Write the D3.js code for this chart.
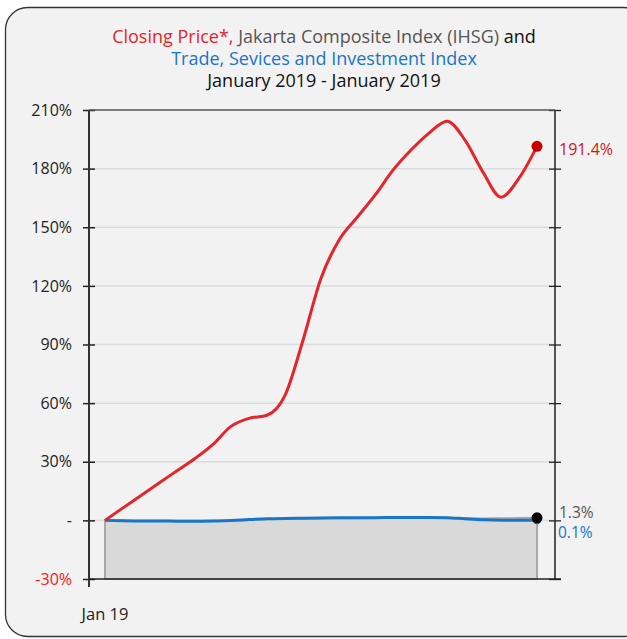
<!DOCTYPE html>
<html>
<head>
<meta charset="utf-8">
<script src="https://cdn.jsdelivr.net/npm/d3@7.9.0/dist/d3.min.js"></script>
<style>
  html, body { margin: 0; padding: 0; background: #fff; }
  svg { display: block; font-family: "Open Sans", "Noto Sans", sans-serif; }
</style>
</head>
<body>
<svg id="chart" width="627" height="639"></svg>
<script>
// closing price, % change from start
const closingPrice = [0, 6.4, 12.7, 19.1, 25.4, 31.7, 38.9, 48.1, 52.2, 53.8, 64, 92.2, 123.9,
  143.4, 155, 166.4, 179.2, 189.5, 198.2, 204.3, 194.6, 178.2, 165.4, 175.1, 191.4];
// Jakarta Composite Index (IHSG)
const ihsg = [0, -0.1, -0.2, -0.2, -0.2, -0.2, -0.2, -0.1, 0.2, 0.6, 0.8, 0.9, 1.0,
  1.1, 1.1, 1.2, 1.2, 1.2, 1.2, 1.2, 1.1, 1.0, 1.1, 1.2, 1.3];
// Trade, Services and Investment Index
const tradeIndex = [0, -0.2, -0.3, -0.3, -0.4, -0.4, -0.3, -0.1, 0.4, 0.8, 1.0, 1.1, 1.2,
  1.3, 1.4, 1.4, 1.5, 1.5, 1.5, 1.4, 0.8, 0.3, 0.1, 0.1, 0.1];
const yTicks = [-30, 0, 30, 60, 90, 120, 150, 180, 210];
const xLabels = [{ i: 0, text: 'Jan 19' }];

const red = '#e3262b', redDot = '#c80000', blue = '#1976c6', grey = '#555';

const svg = d3.select('#chart');

svg.append('rect')
  .attr('x', 5.5).attr('y', 7.5).attr('width', 640).attr('height', 629)
  .attr('rx', 22).attr('fill', '#f2f2f2').attr('stroke', '#333').attr('stroke-width', 1.3);

// title
const title = svg.append('text').attr('text-anchor', 'middle').attr('font-size', 18);
const l1 = title.append('tspan').attr('x', 324).attr('y', 43);
l1.append('tspan').attr('fill', red).text('Closing Price*,');
l1.append('tspan').attr('fill', grey).text(' Jakarta Composite Index (IHSG)');
l1.append('tspan').attr('fill', '#111').text(' and');
title.append('tspan').attr('x', 324).attr('y', 65).attr('fill', blue)
  .text('Trade, Sevices and Investment Index');
title.append('tspan').attr('x', 324).attr('y', 87).attr('fill', '#111')
  .text('January 2019 - January 2019');

const plotL = 89, plotR = 555, plotT = 110, plotB = 579;
const x = d3.scaleLinear().domain([0, closingPrice.length - 1]).range([105, 537]);
const y = d3.scaleLinear().domain([-30, 210]).range([plotB, plotT]);

// gridlines
svg.append('g').selectAll('line').data(yTicks.filter(t => t > -30 && t < 210)).join('line')
  .attr('x1', plotL).attr('x2', plotR)
  .attr('y1', d => y(d)).attr('y2', d => y(d))
  .attr('stroke', '#dcdcdc').attr('stroke-width', 1.5);

// IHSG area
const idx = d3.range(ihsg.length);
svg.append('path').datum(idx)
  .attr('d', d3.area().x(i => x(i)).y0(y(-30)).y1(i => y(ihsg[i])).curve(d3.curveMonotoneX))
  .attr('fill', '#d9d9d9').attr('stroke', '#a8a8a8').attr('stroke-width', 2);

// axes
const yAxisL = d3.axisLeft(y).tickValues(yTicks).tickSizeInner(6).tickSizeOuter(0)
  .tickFormat(d => d === 0 ? '-' : d + '%');
const gl = svg.append('g').attr('transform', `translate(${plotL},0)`).call(yAxisL);
gl.select('.domain').remove();
gl.selectAll('.tick line').attr('x2', 6).attr('x1', -6).attr('stroke', '#222').attr('stroke-width', 1.5);
gl.selectAll('.tick text').attr('x', -17).attr('font-size', 16)
  .attr('font-family', '"Open Sans", sans-serif')
  .attr('fill', d => d === -30 ? '#ee2222' : '#222');

const gr = svg.append('g').attr('transform', `translate(${plotR},0)`)
  .call(d3.axisRight(y).tickValues(yTicks).tickSize(6).tickFormat(''));
gr.select('.domain').remove();
gr.selectAll('.tick line').attr('x1', -6).attr('x2', 6).attr('stroke', '#222').attr('stroke-width', 1.3);

svg.append('line').attr('x1', plotL).attr('x2', plotL).attr('y1', plotT).attr('y2', plotB + 8)
  .attr('stroke', '#333').attr('stroke-width', 2);
svg.append('line').attr('x1', plotR).attr('x2', plotR).attr('y1', plotT).attr('y2', plotB)
  .attr('stroke', '#222').attr('stroke-width', 1.5);
svg.append('line').attr('x1', plotL).attr('x2', plotR).attr('y1', plotT).attr('y2', plotT)
  .attr('stroke', '#555').attr('stroke-width', 1.5);
svg.append('line').attr('x1', plotL).attr('x2', plotR + 6).attr('y1', plotB).attr('y2', plotB)
  .attr('stroke', '#222').attr('stroke-width', 1.5);

svg.append('g').selectAll('text').data(xLabels).join('text')
  .attr('x', d => x(d.i)).attr('y', 620).attr('text-anchor', 'middle')
  .attr('font-size', 16.5).attr('fill', '#222').text(d => d.text);

// lines
const line = arr => d3.line().x((d, i) => x(i)).y(d => y(d)).curve(d3.curveMonotoneX)(arr);
svg.append('path').attr('d', line(tradeIndex)).attr('fill', 'none')
  .attr('stroke', blue).attr('stroke-width', 3);
svg.append('path').attr('d', line(closingPrice)).attr('fill', 'none')
  .attr('stroke', red).attr('stroke-width', 3);

const last = closingPrice.length - 1;
svg.append('circle').attr('cx', x(last)).attr('cy', y(tradeIndex[last])).attr('r', 4).attr('fill', blue);
svg.append('circle').attr('cx', x(last)).attr('cy', y(ihsg[last])).attr('r', 5.5).attr('fill', '#000');
svg.append('circle').attr('cx', x(last)).attr('cy', y(closingPrice[last])).attr('r', 5.5).attr('fill', redDot);

const fmt = v => v.toFixed(1) + '%';
svg.append('text').attr('x', 559).attr('y', y(closingPrice[last]) + 9).attr('font-size', 16)
  .attr('fill', '#cc1a1a').text(fmt(closingPrice[last]));
svg.append('text').attr('x', 559).attr('y', y(ihsg[last])).attr('font-size', 15.5)
  .attr('fill', grey).text(fmt(ihsg[last]));
svg.append('text').attr('x', 558).attr('y', y(tradeIndex[last]) + 18).attr('font-size', 15.5)
  .attr('fill', blue).text(fmt(tradeIndex[last]));
</script>
</body>
</html>
